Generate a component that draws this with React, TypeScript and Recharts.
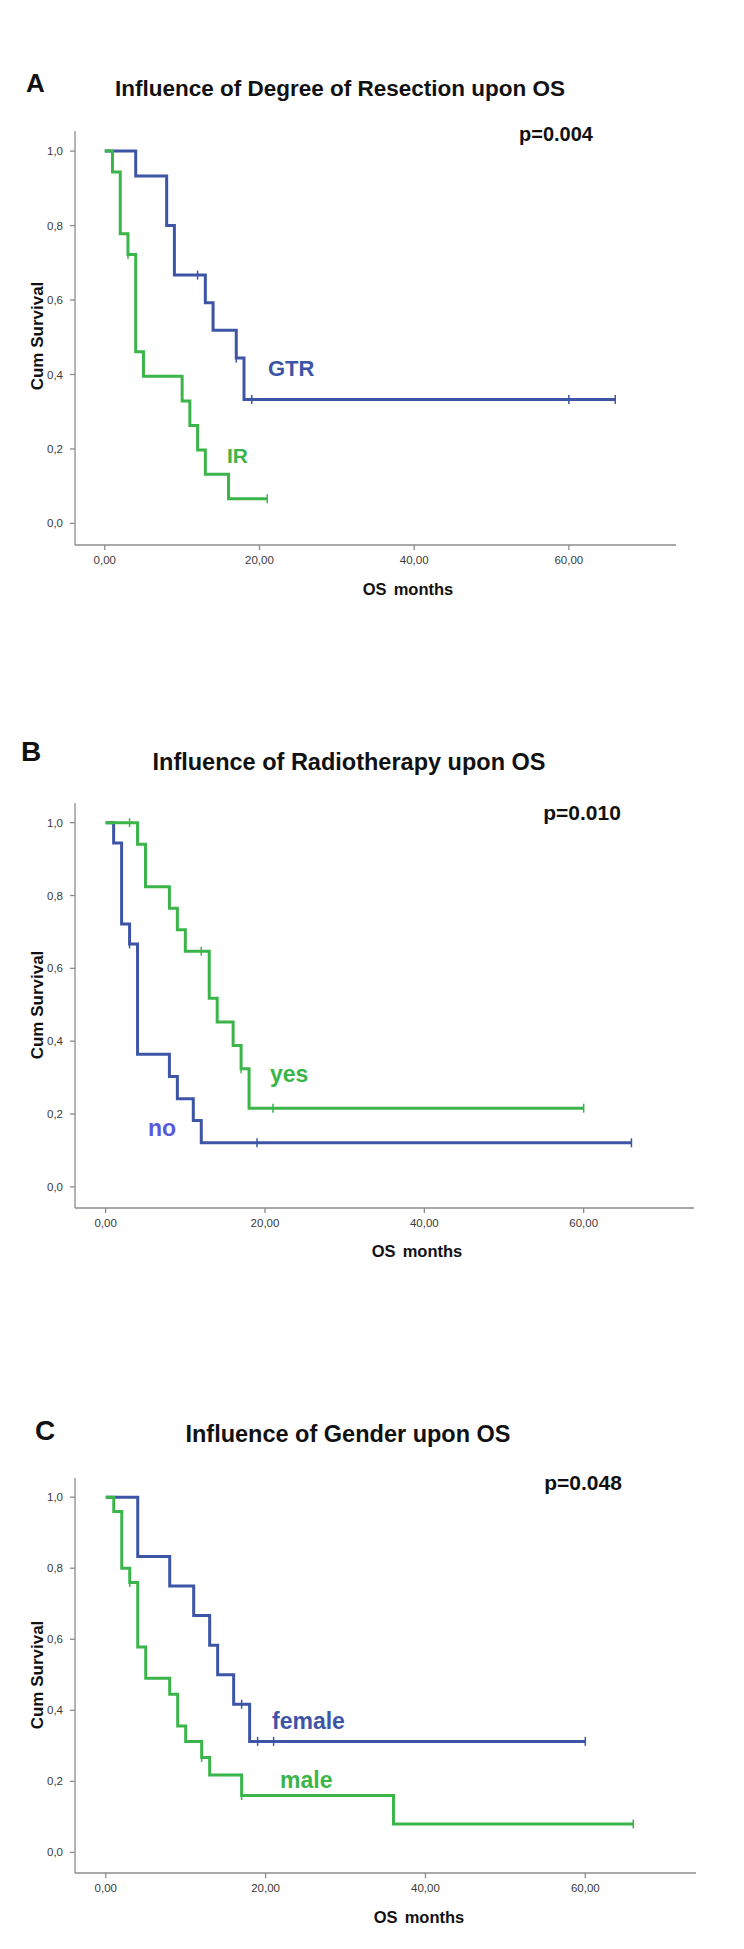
import { ComposedChart, Line, Scatter, XAxis, YAxis } from "recharts";

const xTicks = [0, 20, 40, 60];
const yTicks = [0, 0.2, 0.4, 0.6, 0.8, 1];

// A - degree of resection
const gtrTime = [0, 4, 8, 9, 13, 14, 17, 18, 66];
const gtrSurv = [1, 0.933, 0.8, 0.667, 0.593, 0.519, 0.444, 0.333, 0.333];
const gtrCensored = [12, 17, 19, 60, 66];
const irTime = [0, 1, 2, 3, 4, 5, 10, 11, 12, 13, 16, 21];
const irSurv = [1, 0.944, 0.778, 0.722, 0.461, 0.395, 0.329, 0.263, 0.197, 0.132, 0.066, 0.066];
const irCensored = [3, 21];

// B - radiotherapy
const noTime = [0, 1, 2, 3, 4, 8, 9, 11, 12, 66];
const noSurv = [1, 0.944, 0.722, 0.667, 0.364, 0.303, 0.242, 0.182, 0.121, 0.121];
const noCensored = [3, 19, 66];
const yesTime = [0, 4, 5, 8, 9, 10, 13, 14, 16, 17, 18, 60];
const yesSurv = [1, 0.941, 0.824, 0.765, 0.706, 0.647, 0.518, 0.453, 0.388, 0.324, 0.216, 0.216];
const yesCensored = [3, 12, 17, 21, 60];

// C - gender
const femaleTime = [0, 4, 8, 11, 13, 14, 16, 18, 60];
const femaleSurv = [1, 0.833, 0.75, 0.667, 0.583, 0.5, 0.417, 0.3125, 0.3125];
const femaleCensored = [17, 19, 21, 60];
const maleTime = [0, 1, 2, 3, 4, 5, 8, 9, 10, 12, 13, 17, 36, 66];
const maleSurv = [1, 0.96, 0.8, 0.76, 0.578, 0.49, 0.445, 0.356, 0.312, 0.267, 0.218, 0.16, 0.08, 0.08];
const maleCensored = [3, 12, 17, 66];

type Pt = { t: number; s: number };

const steps = (time: number[], surv: number[]): Pt[] =>
  time.map((t, i) => ({ t, s: surv[i] }));

// censor marks sit on the curve level at their time
const censorPts = (cens: number[], time: number[], surv: number[]): Pt[] =>
  cens.map((t) => {
    let s = surv[0];
    time.forEach((tt, i) => {
      if (tt <= t) s = surv[i];
    });
    return { t, s };
  });

const BLUE = "#3d55a6";
const GREEN = "#3bb54a";
const FONT = "'Liberation Sans', Arial, sans-serif";

const fmtX = (v: number) => v.toFixed(2).replace(".", ",");
const fmtY = (v: number) => v.toFixed(1).replace(".", ",");

const tick = (color: string) => (p: any) => (
  <line
    x1={p.cx}
    x2={p.cx}
    y1={p.cy - 4.5}
    y2={p.cy + 4.5}
    stroke={color}
    strokeWidth={1.5}
  />
);

type Curve = { time: number[]; surv: number[]; cens: number[]; color: string };

function KmPanel(props: {
  top: number;
  height: number;
  mTop: number;
  mRight: number;
  mBottom: number;
  curves: Curve[];
}) {
  const { top, height, mTop, mRight, mBottom, curves } = props;
  return (
    <div style={{ position: "absolute", left: 0, top }}>
      <ComposedChart
        width={744}
        height={height}
        margin={{ top: mTop, right: mRight, bottom: mBottom, left: 0 }}
      >
        <XAxis
          type="number"
          dataKey="t"
          domain={[-3.85, 73.85]}
          allowDataOverflow
          ticks={xTicks}
          interval={0}
          tickFormatter={fmtX}
          tick={{ fontSize: 11.5, fill: "#3a3a3a", fontFamily: FONT }}
          tickSize={5}
          tickMargin={6}
          stroke="#8c8c8c"
          strokeWidth={1.3}
          height={30}
        />
        <YAxis
          type="number"
          dataKey="s"
          domain={[-0.058, 1.054]}
          allowDataOverflow
          ticks={yTicks}
          interval={0}
          tickFormatter={fmtY}
          tick={{ fontSize: 11.5, fill: "#3a3a3a", fontFamily: FONT }}
          tickSize={5}
          tickMargin={7}
          stroke="#8c8c8c"
          strokeWidth={1.3}
          width={75}
        />
        {curves.map((c, i) => (
          <Line
            key={"l" + i}
            data={steps(c.time, c.surv)}
            dataKey="s"
            type="stepAfter"
            stroke={c.color}
            strokeWidth={3}
            dot={false}
            activeDot={false}
            isAnimationActive={false}
          />
        ))}
        {curves.map((c, i) => (
          <Scatter
            key={"c" + i}
            data={censorPts(c.cens, c.time, c.surv)}
            dataKey="s"
            shape={tick(c.color)}
            isAnimationActive={false}
          />
        ))}
      </ComposedChart>
    </div>
  );
}

export default function App() {
  const bold = { fontFamily: FONT, fontWeight: 700 } as const;
  return (
    <div
      style={{
        position: "absolute",
        left: 0,
        top: 0,
        width: 744,
        height: 1949,
        background: "#fff",
        fontFamily: FONT,
      }}
    >
      <KmPanel
        top={100}
        height={500}
        mTop={31}
        mRight={68}
        mBottom={25}
        curves={[
          { time: gtrTime, surv: gtrSurv, cens: gtrCensored, color: BLUE },
          { time: irTime, surv: irSurv, cens: irCensored, color: GREEN },
        ]}
      />
      <KmPanel
        top={780}
        height={480}
        mTop={23}
        mRight={50}
        mBottom={22}
        curves={[
          { time: noTime, surv: noSurv, cens: noCensored, color: BLUE },
          { time: yesTime, surv: yesSurv, cens: yesCensored, color: GREEN },
        ]}
      />
      <KmPanel
        top={1450}
        height={470}
        mTop={28}
        mRight={48}
        mBottom={17}
        curves={[
          { time: femaleTime, surv: femaleSurv, cens: femaleCensored, color: BLUE },
          { time: maleTime, surv: maleSurv, cens: maleCensored, color: GREEN },
        ]}
      />
      <svg
        width={744}
        height={1949}
        style={{ position: "absolute", left: 0, top: 0, pointerEvents: "none" }}
      >
        {/* panel A */}
        <text x={26} y={92} fontSize={26} {...bold} fill="#111">A</text>
        <text x={340} y={96} fontSize={22.5} textAnchor="middle" {...bold} fill="#111">
          Influence of Degree of Resection upon OS
        </text>
        <text x={556} y={141} fontSize={20} textAnchor="middle" {...bold} fill="#111">p=0.004</text>
        <text x={268} y={376} fontSize={22} {...bold} fill={BLUE}>GTR</text>
        <text x={227} y={463} fontSize={21} {...bold} fill={GREEN}>IR</text>
        <text x={43} y={336} fontSize={17} textAnchor="middle" transform="rotate(-90 43 336)" {...bold} fill="#111">
          Cum Survival
        </text>
        <text x={408} y={595} fontSize={16.5} textAnchor="middle" wordSpacing={2.5} {...bold} fill="#111">
          OS months
        </text>

        {/* panel B */}
        <text x={21} y={761} fontSize={28} {...bold} fill="#111">B</text>
        <text x={349} y={770} fontSize={23.5} textAnchor="middle" {...bold} fill="#111">
          Influence of Radiotherapy upon OS
        </text>
        <text x={582} y={820} fontSize={21} textAnchor="middle" {...bold} fill="#111">p=0.010</text>
        <text x={270} y={1082} fontSize={23} {...bold} fill={GREEN}>yes</text>
        <text x={148} y={1136} fontSize={23} {...bold} fill="#5a5ad8">no</text>
        <text x={43} y={1005} fontSize={17} textAnchor="middle" transform="rotate(-90 43 1005)" {...bold} fill="#111">
          Cum Survival
        </text>
        <text x={417} y={1257} fontSize={16.5} textAnchor="middle" wordSpacing={2.5} {...bold} fill="#111">
          OS months
        </text>

        {/* panel C */}
        <text x={35} y={1440} fontSize={28} {...bold} fill="#111">C</text>
        <text x={348} y={1442} fontSize={23.5} textAnchor="middle" {...bold} fill="#111">
          Influence of Gender upon OS
        </text>
        <text x={583} y={1490} fontSize={21} textAnchor="middle" {...bold} fill="#111">p=0.048</text>
        <text x={272} y={1729} fontSize={23} {...bold} fill={BLUE}>female</text>
        <text x={280} y={1788} fontSize={23} {...bold} fill={GREEN}>male</text>
        <text x={43} y={1675} fontSize={17} textAnchor="middle" transform="rotate(-90 43 1675)" {...bold} fill="#111">
          Cum Survival
        </text>
        <text x={419} y={1923} fontSize={16.5} textAnchor="middle" wordSpacing={2.5} {...bold} fill="#111">
          OS months
        </text>
      </svg>
    </div>
  );
}
